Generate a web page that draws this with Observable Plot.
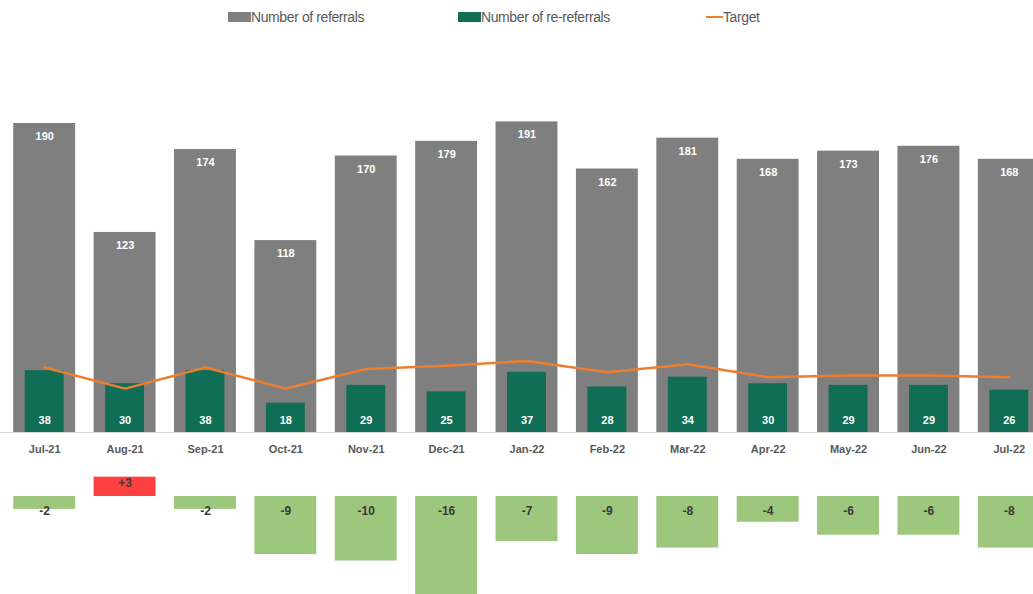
<!DOCTYPE html>
<html>
<head>
<meta charset="utf-8">
<script src="https://cdn.jsdelivr.net/npm/d3@7"></script>
<script src="https://cdn.jsdelivr.net/npm/@observablehq/plot@0.6"></script>
<style>
  html, body { margin: 0; padding: 0; background: #fff; overflow: hidden; }
  #wrap { position: relative; width: 1033px; height: 594px; }
  .leg { position: absolute; top: 8px; font-family: "Liberation Sans", Arial, sans-serif; font-size: 14px; color: #595959; display: flex; align-items: center; height: 18px; letter-spacing: -0.4px; }
  .sw { display: inline-block; width: 23px; height: 10px; }
  .ln { display: inline-block; width: 17px; height: 2px; background: #ed7d31; }
  #topChart { position: absolute; left: 0; top: 40px; }
  #bottomChart { position: absolute; left: 0; top: 470px; }
</style>
</head>
<body>
<div id="wrap">
  <div class="leg" style="left:228px"><span class="sw" style="background:#7f7f7f"></span>Number of referrals</div>
  <div class="leg" style="left:458px"><span class="sw" style="background:#0f6e55"></span>Number of re-referrals</div>
  <div class="leg" style="left:706px"><span class="ln"></span>Target</div>
  <div id="topChart"></div>
  <div id="bottomChart"></div>
</div>
<script>
const months = ["Jul-21","Aug-21","Sep-21","Oct-21","Nov-21","Dec-21","Jan-22","Feb-22","Mar-22","Apr-22","May-22","Jun-22","Jul-22"];
const referrals = [190,123,174,118,170,179,191,162,181,168,173,176,168];
const rereferrals = [38,30,38,18,29,25,37,28,34,30,29,29,26];
const target = [40,27,40,27,39,41,44,37,42,34,35,35,34];
const diff = [-2,3,-2,-9,-10,-16,-7,-9,-8,-4,-6,-6,-8];

const data = months.map((m, i) => ({month: m, referrals: referrals[i], rereferrals: rereferrals[i], target: target[i], diff: diff[i]}));

const xScale = {domain: months, range: [4, 1049], paddingInner: 0.23, paddingOuter: 0.115, round: false};
const lbl = {fontFamily: "Liberation Sans, Arial, sans-serif", fontWeight: "bold", fontSize: 11};

const mainChart = Plot.plot({
  width: 1033, height: 430,
  marginTop: 83, marginBottom: 38, marginLeft: 0, marginRight: 0,
  x: {...xScale, label: null},
  y: {domain: [0, 190], axis: null},
  marks: [
    Plot.barY(data, {x: "month", y: "referrals", fill: "#7f7f7f"}),
    Plot.barY(data, {x: "month", y: "rereferrals", fill: "#0f6e55", insetLeft: 11.5, insetRight: 11.5}),
    Plot.ruleY([0], {stroke: "#d9d9d9", strokeWidth: 1}),
    Plot.line(data, {x: "month", y: "target", stroke: "#ed7d31", strokeWidth: 2.5}),
    Plot.text(data, {x: "month", y: "referrals", text: d => String(d.referrals), dy: 13, fill: "white", ...lbl}),
    Plot.text(data, {x: "month", y: d => 0, text: d => String(d.rereferrals), dy: -12, fill: "white", ...lbl}),
    Plot.axisX({tickSize: 0, tickPadding: 13, fill: "#595959", label: null, ...lbl})
  ]
});
document.getElementById("topChart").append(mainChart);

const pxPerUnit = 6.45;
const diffChart = Plot.plot({
  width: 1033, height: 124,
  marginTop: 0, marginBottom: 0, marginLeft: 0, marginRight: 0,
  x: {...xScale, axis: null},
  y: {domain: [0, -16], range: [26, 26 + 16 * pxPerUnit], axis: null},
  marks: [
    Plot.barY(data, {filter: d => d.diff < 0, x: "month", y: "diff", fill: "#9dc77c"}),
    Plot.barY(data, {filter: d => d.diff > 0, x: "month", y: "diff", fill: "#ff4040"}),
    Plot.text(data, {filter: d => d.diff < 0, x: "month", y: d => 0, text: d => String(d.diff), dy: 15, fill: "#3a3a3a", ...lbl, fontSize: 12}),
    Plot.text(data, {filter: d => d.diff > 0, x: "month", y: "diff", text: d => "+" + d.diff, dy: 6, fill: "#3a3a3a", ...lbl, fontSize: 12})
  ]
});
document.getElementById("bottomChart").append(diffChart);
</script>
</body>
</html>
